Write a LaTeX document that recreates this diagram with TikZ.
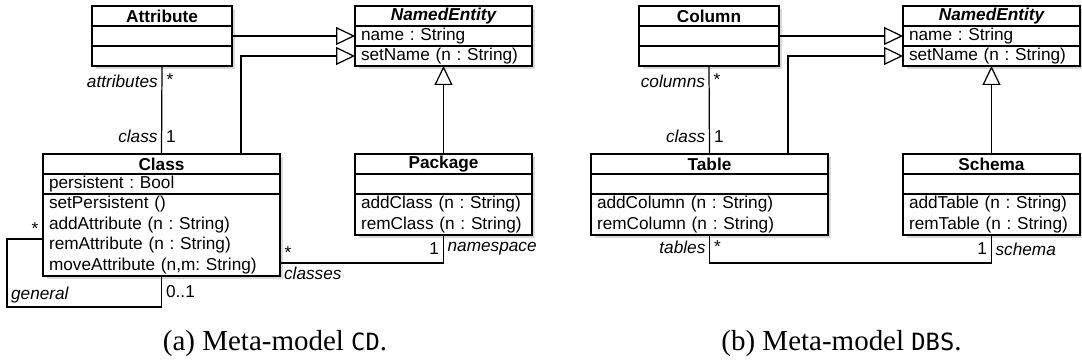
\documentclass[tikz,border=0pt]{standalone}
\usepackage{fontspec}
\setmainfont{Liberation Serif}
\setsansfont{Liberation Sans}
\setmonofont[Scale=0.82]{DejaVu Sans Mono}
\usetikzlibrary{positioning, arrows.meta, shadows}
\frenchspacing

\newcommand{\umlfont}{\sffamily\fontsize{9.8}{11.6}\selectfont}

\tikzstyle{classhead} = [rectangle, draw=black, line width=0.85pt, fill=white, outer sep=0pt, inner sep=0pt, minimum height=0.4cm, text centered, font=\umlfont\bfseries, drop shadow={shadow xshift=0.07cm, shadow yshift=-0.07cm, opacity=0.3}]
\tikzstyle{compartment} = [rectangle, draw=black, line width=0.85pt, fill=white, outer sep=0pt, inner xsep=0.12cm, inner ysep=0pt, minimum height=0.4cm, align=left, font=\umlfont, drop shadow={shadow xshift=0.07cm, shadow yshift=-0.07cm, opacity=0.3}]
\tikzstyle{generalization} = [draw=black, line width=0.7pt, -{Triangle[open, length=0.38cm, width=0.36cm]}]
\tikzstyle{association} = [draw=black, line width=0.7pt]
\tikzstyle{role} = [font=\umlfont\itshape, inner sep=0.07cm]
\tikzstyle{mult} = [font=\umlfont, inner sep=0.08cm]
\tikzstyle{figlabel} = [font=\fontsize{16.5}{19}\selectfont, anchor=base]

\begin{document}
\begin{tikzpicture}[x=0.02cm, y=-0.02cm]
\useasboundingbox (0,0) rectangle (1082,361);

% (a) meta-model CD
\node (attribute) [classhead, minimum width=2.8cm, anchor=north] at (162,6) {Attribute};
\node (attribute-attrs) [compartment, text width=2.56cm, below=0pt of attribute] {};
\node (attribute-ops) [compartment, text width=2.56cm, below=0pt of attribute-attrs] {};

\node (named) [classhead, minimum width=3.54cm, anchor=north, font=\umlfont\bfseries\itshape] at (443.5,6) {NamedEntity};
\node (named-attrs) [compartment, text width=3.3cm, below=0pt of named] {name : String};
\node (named-ops) [compartment, text width=3.3cm, below=0pt of named-attrs] {setName (n : String)};

\node (class) [classhead, minimum width=4.74cm, anchor=north] at (161.5,154) {Class};
\node (class-attrs) [compartment, text width=4.5cm, below=0pt of class] {persistent : Bool};
\node (class-ops) [compartment, text width=4.5cm, minimum height=1.64cm, below=0pt of class-attrs] {setPersistent ()\\addAttribute (n : String)\\remAttribute (n : String)\\moveAttribute (n,m: String)};

\node (package) [classhead, minimum width=3.54cm, anchor=north] at (443.5,154) {Package};
\node (package-attrs) [compartment, text width=3.3cm, below=0pt of package] {};
\node (package-ops) [compartment, text width=3.3cm, minimum height=0.82cm, below=0pt of package-attrs] {addClass (n : String)\\remClass (n : String)};

\draw [generalization] (attribute-attrs.east) -- (named-attrs.west);
\draw [generalization] ([xshift=1.59cm]class.north) |- (named-ops.west);
\draw [generalization] (package.north) -- (named-ops.south);
\draw [association] (attribute-ops.south) -- node[role, left, pos=0.18] {attributes} node[mult, right, pos=0.15] {*}
  node[role, left, pos=0.8] {class} node[mult, right, pos=0.8] {1} (class.north);
\draw [association] ([yshift=-0.56cm]class-ops.east) -| node[mult, pos=0, above right] {*} node[role, pos=0, below right] {classes}
  node[mult, left, pos=0.75] {1} node[role, right, pos=0.75] {namespace} (package-ops.south);
\draw [association] ([yshift=-0.08cm]class-ops.west) -| node[mult, pos=0, above left] {*} ++(-36,68)
  -| node[role, pos=0, above right] {general} node[mult, right, pos=0.75] {0..1} (class-ops.south);

% (b) meta-model DBS
\node (column) [classhead, minimum width=2.8cm, anchor=north] at (709,6) {Column};
\node (column-attrs) [compartment, text width=2.56cm, below=0pt of column] {};
\node (column-ops) [compartment, text width=2.56cm, below=0pt of column-attrs] {};

\node (named2) [classhead, minimum width=3.54cm, anchor=north, font=\umlfont\bfseries\itshape] at (991.5,6) {NamedEntity};
\node (named2-attrs) [compartment, text width=3.3cm, below=0pt of named2] {name : String};
\node (named2-ops) [compartment, text width=3.3cm, below=0pt of named2-attrs] {setName (n : String)};

\node (table) [classhead, minimum width=4.74cm, anchor=north] at (709.5,154) {Table};
\node (table-attrs) [compartment, text width=4.5cm, below=0pt of table] {};
\node (table-ops) [compartment, text width=4.5cm, minimum height=0.82cm, below=0pt of table-attrs] {addColumn (n : String)\\remColumn (n : String)};

\node (schema) [classhead, minimum width=3.54cm, anchor=north] at (991.5,154) {Schema};
\node (schema-attrs) [compartment, text width=3.3cm, below=0pt of schema] {};
\node (schema-ops) [compartment, text width=3.3cm, minimum height=0.82cm, below=0pt of schema-attrs] {addTable (n : String)\\remTable (n : String)};

\draw [generalization] (column-attrs.east) -- (named2-attrs.west);
\draw [generalization] ([xshift=1.57cm]table.north) |- (named2-ops.west);
\draw [generalization] (schema.north) -- (named2-ops.south);
\draw [association] (column-ops.south) -- node[role, left, pos=0.18] {columns} node[mult, right, pos=0.15] {*}
  node[role, left, pos=0.8] {class} node[mult, right, pos=0.8] {1} (table.north);
\draw [association] (table-ops.south) -- node[role, left, pos=0.45] {tables} node[mult, right, pos=0.4] {*} ++(0,28)
  -| node[mult, left, pos=0.75] {1} node[role, right, pos=0.75] {schema} (schema-ops.south);

% captions
\node (caption-cd) [figlabel] at (275,350) {(a) Meta-model \texttt{CD}.};
\node (caption-dbs) [figlabel] at (841.5,350) {(b) Meta-model \texttt{DBS}.};

\end{tikzpicture}
\end{document}
